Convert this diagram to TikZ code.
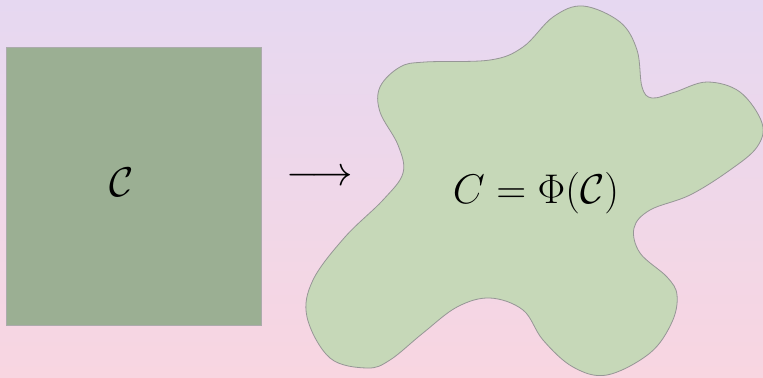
\documentclass[tikz,border=0pt]{standalone}
\usepackage{amsmath,amssymb}
\usetikzlibrary{arrows.meta}
\definecolor{bgtop}{RGB}{230,216,241}
\definecolor{bgbottom}{RGB}{248,214,225}
\definecolor{squarefill}{RGB}{155,175,147}
\definecolor{blobfill}{RGB}{198,216,184}
\definecolor{blobedge}{RGB}{150,150,150}

\begin{document}
\begin{tikzpicture}[x=0.5pt, y=-0.5pt, every node/.style={font=\fontsize{21.6}{26}\selectfont}]
	\shade[top color=bgtop, bottom color=bgbottom] (0,0) rectangle (763,377);
	\useasboundingbox (0,0) rectangle (763,377);
	% the square
	\fill[squarefill] (6,47) rectangle (261,325);
	\draw[blobedge!80, line width=0.3pt] (6,47) rectangle (261,325);
	\node (code) at (122,182) {$\mathcal{C}$};
	\node (map) at (320,178) {$\longrightarrow$};
	% the blob
	\draw[blobedge, line width=0.4pt, fill=blobfill] plot[smooth cycle, tension=0.6] coordinates {
		(583,6) (620,22) (637,50) (642,87) (652,98) (675,92) (707,82) (740,92)
		(762,123) (757,147) (730,170) (690,195) (650,210) (634,228) (640,253)
		(667,277) (677,295) (672,322) (650,353) (607,375) (573,367) (543,340)
		(523,310) (490,298) (457,307) (423,333) (390,360) (367,368) (330,358)
		(307,317) (313,280) (345,237) (383,200) (403,173) (398,145) (380,112)
		(380,87) (400,67) (425,62) (490,60) (523,47) (553,17)};
	\node (image) at (536,193) {$C=\Phi(\mathcal{C})$};
\end{tikzpicture}
\end{document}
